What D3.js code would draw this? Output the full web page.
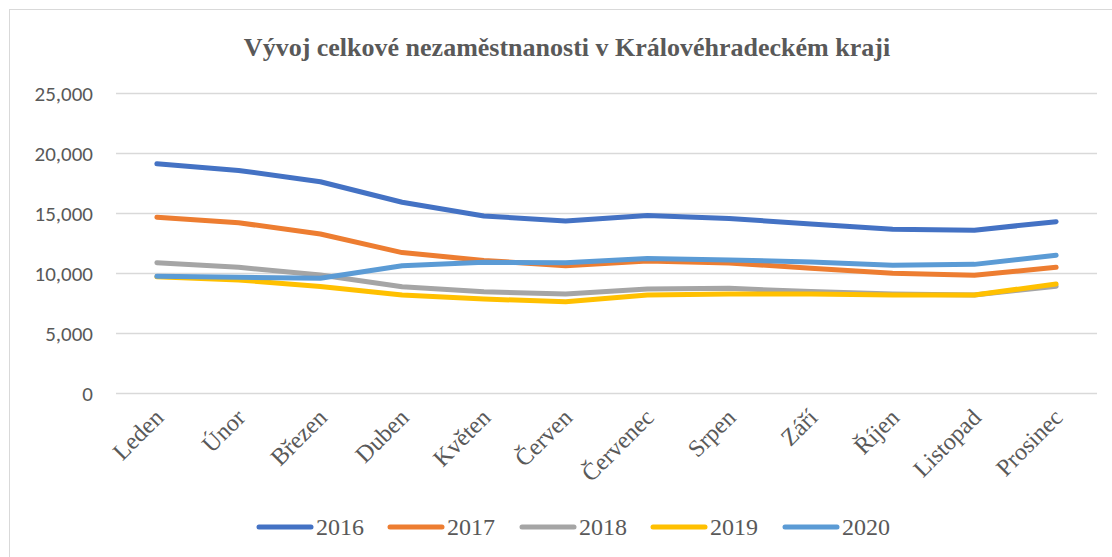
<!DOCTYPE html>
<html>
<head>
<meta charset="utf-8">
<script src="https://cdn.jsdelivr.net/npm/d3@7"></script>
<style>
  html, body { margin: 0; padding: 0; background: #fff; }
  svg { display: block; }
</style>
</head>
<body>
<svg id="chart" width="1112" height="557"></svg>
<script>
const months = ["Leden","Únor","Březen","Duben","Květen","Červen","Červenec","Srpen","Září","Říjen","Listopad","Prosinec"];
const years = ["2016","2017","2018","2019","2020"];
const s2016 = [19100,18550,17600,15900,14750,14330,14800,14550,14080,13650,13570,14280];
const s2017 = [14650,14190,13250,11700,11050,10600,11000,10830,10400,9980,9820,10470];
const s2018 = [10860,10470,9830,8860,8440,8250,8670,8720,8450,8250,8170,8900];
const s2019 = [9680,9420,8880,8170,7830,7600,8170,8250,8250,8170,8170,9080];
const s2020 = [9720,9640,9560,10600,10900,10850,11200,11080,10920,10650,10720,11480];
const yTicks = [0,5000,10000,15000,20000,25000];
const colors = ["#4472C4","#ED7D31","#A5A5A5","#FFC000","#5B9BD5"];
const seriesList = [s2016, s2017, s2018, s2019, s2020];

const svg = d3.select("#chart");
// frame
svg.append("rect").attr("x", 9.5).attr("y", 9.5).attr("width", 1120).attr("height", 560)
  .attr("fill", "#fff").attr("stroke", "#d9d9d9").attr("stroke-width", 1);

const x = d3.scaleBand().domain(months).range([116, 1097]);
const y = d3.scaleLinear().domain([0, 25000]).range([393, 93]);

// title
svg.append("text").attr("x", 567).attr("y", 56).attr("text-anchor", "middle")
  .attr("font-family", "'Liberation Serif', 'Times New Roman', serif").attr("font-weight", "bold")
  .attr("font-size", 26).attr("fill", "#595959")
  .text("Vývoj celkové nezaměstnanosti v Královéhradeckém kraji");

// gridlines
const yAxis = d3.axisLeft(y).tickValues(yTicks).tickSize(-(1097 - 116)).tickFormat(d3.format(","));
const gy = svg.append("g").attr("transform", "translate(116,0)").call(yAxis);
gy.select(".domain").remove();
gy.selectAll(".tick line").attr("stroke", "#d9d9d9").attr("stroke-width", 1.3);
gy.selectAll(".tick text").attr("x", -23).attr("dy", "0.35em")
  .attr("font-family", "Carlito, Calibri, 'Liberation Sans', sans-serif")
  .attr("font-size", 21).attr("fill", "#595959");

// x axis labels
const xAxis = d3.axisBottom(x).tickSize(0);
const gx = svg.append("g").attr("transform", "translate(0,393)").call(xAxis);
gx.select(".domain").remove();
gx.selectAll(".tick text")
  .attr("font-family", "'Liberation Serif', 'Times New Roman', serif")
  .attr("font-size", 24).attr("fill", "#595959")
  .attr("text-anchor", "end")
  .attr("dy", null).attr("y", 0)
  .attr("transform", "translate(8,26) rotate(-45)");

// lines
const line = d3.line().x((d, i) => x(months[i]) + x.bandwidth() / 2).y(d => y(d));
seriesList.forEach((s, k) => {
  svg.append("path").datum(s).attr("d", line).attr("fill", "none")
    .attr("stroke", colors[k]).attr("stroke-width", 5)
    .attr("stroke-linecap", "round").attr("stroke-linejoin", "round");
});

// legend
const legX = [257, 388, 520, 651, 783];
const lg = svg.append("g");
years.forEach((yr, k) => {
  const g = lg.append("g").attr("transform", `translate(${legX[k]},527)`);
  g.append("line").attr("x1", 2).attr("x2", 54).attr("y1", 0).attr("y2", 0)
    .attr("stroke", colors[k]).attr("stroke-width", 5).attr("stroke-linecap", "round");
  g.append("text").attr("x", 59).attr("y", 8)
    .attr("font-family", "'Liberation Serif', 'Times New Roman', serif")
    .attr("font-size", 24).attr("fill", "#595959").text(yr);
});
</script>
</body>
</html>
